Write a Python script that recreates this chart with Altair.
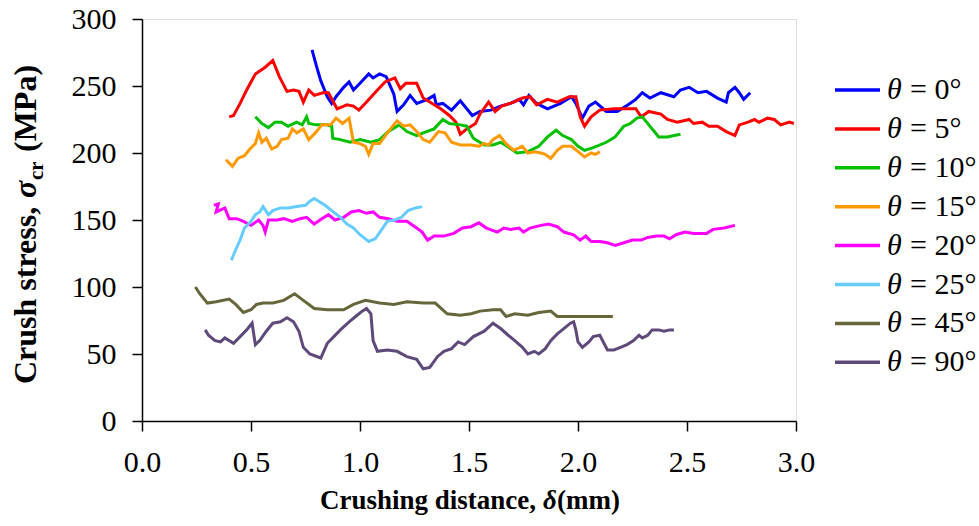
import altair as alt
import pandas as pd

series = ["θ = 0°", "θ = 5°", "θ = 10°", "θ = 15°", "θ = 20°", "θ = 25°", "θ = 45°", "θ = 90°"]
label_rest = ["= 0°", "= 5°", "= 10°", "= 15°", "= 20°", "= 25°", "= 45°", "= 90°"]
colors = ["#0000FF", "#FF0000", "#00C000", "#FF9900", "#FF00FF", "#66CCFF", "#66663A", "#5E4A7A"]

x_0 = [0.78, 0.80, 0.82, 0.85, 0.87, 0.89, 0.925, 0.95, 0.97, 1.0, 1.04, 1.06, 1.09, 1.12, 1.155, 1.17, 1.2, 1.23,
       1.26, 1.31, 1.34, 1.35, 1.38, 1.42, 1.46, 1.515, 1.55, 1.6, 1.645, 1.69, 1.73, 1.75, 1.775, 1.81, 1.86, 1.92,
       1.97, 1.99, 2.02, 2.05, 2.08, 2.13, 2.18, 2.23, 2.265, 2.295, 2.33, 2.38, 2.44, 2.47, 2.51, 2.55, 2.59, 2.64,
       2.68, 2.69, 2.72, 2.74, 2.76, 2.79]
y_0 = [277, 265, 254, 242, 237, 242, 249, 253, 247, 252, 259, 256, 259, 257, 244, 231, 236, 243,
       237, 240, 243, 236, 237, 232, 239, 228, 231, 232, 235, 237, 240, 236, 243, 237, 233, 237,
       242, 237, 226, 235, 238, 231, 231, 236, 240, 245, 241, 245, 242, 247, 249, 245, 246, 241,
       238, 245, 249, 245, 240, 245]

x_5 = [0.40, 0.42, 0.45, 0.48, 0.52, 0.565, 0.60, 0.63, 0.665, 0.695, 0.72, 0.74, 0.765, 0.79, 0.83, 0.855, 0.895,
       0.94, 0.97, 0.995, 1.03, 1.08, 1.115, 1.16, 1.185, 1.21, 1.26, 1.29, 1.32, 1.37, 1.41, 1.44, 1.46, 1.49, 1.53,
       1.55, 1.59, 1.62, 1.65, 1.705, 1.745, 1.78, 1.81, 1.86, 1.905, 1.96, 1.99, 2.01, 2.03, 2.06, 2.10, 2.165, 2.23,
       2.265, 2.29, 2.325, 2.38, 2.41, 2.455, 2.51, 2.53, 2.57, 2.60, 2.64, 2.68, 2.72, 2.74, 2.78, 2.81, 2.83, 2.87,
       2.90, 2.93, 2.97, 2.99]
y_5 = [227, 228, 237, 247, 259, 264, 269, 257, 246, 247, 246, 238, 247, 243, 245, 245, 233,
       236, 235, 232, 238, 247, 253, 256, 248, 252, 252, 241, 238, 233, 228, 223, 214, 218, 222,
       229, 238, 231, 235, 238, 241, 242, 236, 240, 238, 242, 242, 227, 220, 227, 232, 233, 233,
       233, 227, 231, 229, 225, 223, 225, 222, 223, 220, 220, 216, 213, 221, 223, 225, 223, 226,
       225, 221, 223, 222]

x_10 = [0.52, 0.55, 0.58, 0.61, 0.64, 0.67, 0.71, 0.735, 0.755, 0.765, 0.80, 0.85, 0.87, 0.875, 0.91, 0.955, 1.0,
        1.05, 1.09, 1.13, 1.18, 1.215, 1.26, 1.29, 1.34, 1.38, 1.41, 1.46, 1.49, 1.52, 1.57, 1.61, 1.645, 1.675,
        1.72, 1.77, 1.82, 1.86, 1.90, 1.93, 1.97, 2.0, 2.03, 2.07, 2.13, 2.17, 2.21, 2.24, 2.27, 2.295, 2.325, 2.35,
        2.37, 2.41, 2.44, 2.47]
y_10 = [227, 222, 219, 223, 223, 220, 223, 221, 227, 222, 221, 221, 220, 211, 210, 208, 210,
        208, 210, 216, 221, 216, 213, 215, 218, 225, 222, 221, 220, 211, 206, 206, 208, 205,
        200, 201, 205, 212, 217, 213, 210, 205, 202, 204, 208, 212, 220, 222, 226, 227, 221, 216,
        212, 212, 213, 214]

x_15 = [0.385, 0.415, 0.44, 0.47, 0.495, 0.52, 0.535, 0.55, 0.57, 0.595, 0.62, 0.64, 0.67, 0.69, 0.71, 0.74, 0.765,
        0.795, 0.825, 0.865, 0.89, 0.92, 0.95, 0.97, 1.0, 1.025, 1.04, 1.06, 1.09, 1.13, 1.17, 1.20, 1.23, 1.26,
        1.29, 1.32, 1.36, 1.39, 1.42, 1.46, 1.51, 1.545, 1.57, 1.59, 1.61, 1.64, 1.67, 1.705, 1.745, 1.77, 1.80,
        1.83, 1.85, 1.875, 1.905, 1.93, 1.97, 2.0, 2.03, 2.06, 2.08, 2.10]
y_15 = [195, 190, 196, 198, 203, 207, 215, 208, 211, 203, 205, 210, 211, 218, 215, 218, 210,
        215, 221, 221, 226, 222, 226, 208, 207, 205, 199, 207, 207, 216, 224, 220, 221, 216,
        210, 208, 216, 215, 208, 206, 206, 205, 207, 206, 210, 213, 207, 202, 205, 200, 201,
        200, 199, 196, 202, 205, 205, 201, 197, 200, 199, 201]

x_20 = [0.33, 0.35, 0.34, 0.38, 0.40, 0.435, 0.465, 0.50, 0.535, 0.555, 0.565, 0.58, 0.62, 0.65, 0.69, 0.725, 0.755,
        0.79, 0.825, 0.855, 0.885, 0.925, 0.96, 0.995, 1.03, 1.06, 1.09, 1.13, 1.17, 1.215, 1.26, 1.285, 1.31,
        1.34, 1.385, 1.43, 1.47, 1.51, 1.545, 1.58, 1.63, 1.66, 1.69, 1.73, 1.75, 1.78, 1.83, 1.865, 1.905, 1.935,
        1.98, 2.01, 2.035, 2.06, 2.10, 2.135, 2.17, 2.21, 2.25, 2.29, 2.32, 2.36, 2.395, 2.42, 2.45, 2.49, 2.53,
        2.59, 2.62, 2.67, 2.72]
y_20 = [161, 162, 156, 159, 151, 151, 149, 146, 150, 146, 141, 150, 150, 151, 149, 151, 152,
        147, 151, 154, 150, 152, 156, 157, 155, 156, 152, 151, 149, 149, 144, 141, 135,
        138, 138, 140, 144, 145, 148, 144, 141, 144, 143, 144, 141, 144, 146, 147, 145, 141,
        139, 135, 138, 134, 134, 133, 131, 133, 135, 135, 137, 138, 138, 136, 139, 141, 140,
        140, 143, 144, 146]

x_25 = [0.41, 0.43, 0.45, 0.47, 0.50, 0.52, 0.54, 0.555, 0.58, 0.60, 0.635, 0.67, 0.71, 0.75, 0.77, 0.79, 0.81, 0.84,
        0.87, 0.91, 0.94, 0.97, 1.0, 1.04, 1.07, 1.10, 1.125, 1.16, 1.19, 1.22, 1.255, 1.285]
y_25 = [120, 128, 135, 144, 149, 154, 156, 160, 154, 157, 159, 159, 160, 161, 164, 166, 164, 161,
        157, 152, 147, 144, 139, 134, 136, 143, 149, 150, 152, 157, 159, 160]

x_45 = [0.245, 0.265, 0.30, 0.34, 0.40, 0.43, 0.465, 0.50, 0.525, 0.555, 0.60, 0.65, 0.70, 0.74, 0.79, 0.85, 0.925,
        0.97, 1.025, 1.09, 1.155, 1.215, 1.29, 1.345, 1.40, 1.46, 1.51, 1.55, 1.61, 1.645, 1.67, 1.71, 1.77, 1.82,
        1.875, 1.905, 2.0, 2.16]
y_45 = [100, 95, 88, 89, 91, 87, 81, 83, 87, 88, 88, 90, 95, 90, 84, 83, 83,
        87, 90, 88, 87, 89, 88, 88, 80, 79, 80, 82, 83, 83, 78, 80, 79, 81,
        82, 78, 78, 78]

x_90 = [0.29, 0.305, 0.335, 0.36, 0.38, 0.42, 0.45, 0.48, 0.505, 0.52, 0.54, 0.57, 0.60, 0.635, 0.665, 0.695, 0.72,
        0.74, 0.77, 0.82, 0.85, 0.88, 0.91, 0.95, 0.98, 1.01, 1.03, 1.05, 1.06, 1.08, 1.125, 1.17, 1.215, 1.26,
        1.29, 1.32, 1.355, 1.385, 1.42, 1.45, 1.48, 1.52, 1.57, 1.61, 1.645, 1.68, 1.71, 1.745, 1.77, 1.80, 1.82,
        1.85, 1.875, 1.905, 1.935, 1.965, 1.98, 1.99, 2.0, 2.02, 2.05, 2.07, 2.10, 2.135, 2.165, 2.195, 2.225,
        2.255, 2.28, 2.295, 2.32, 2.34, 2.37, 2.395, 2.42, 2.44]
y_90 = [68, 64, 60, 59, 62, 58, 63, 68, 73, 57, 60, 67, 73, 74, 77, 74, 67,
        55, 50, 47, 58, 63, 68, 74, 78, 82, 84, 80, 60, 52, 53, 52, 48, 46,
        39, 40, 48, 52, 54, 59, 57, 63, 67, 73, 69, 64, 60, 55, 50, 52, 50,
        54, 60, 65, 69, 73, 74, 68, 59, 55, 59, 63, 64, 53, 53, 55, 57,
        60, 64, 62, 64, 68, 68, 67, 68, 68]

all_x = [x_0, x_5, x_10, x_15, x_20, x_25, x_45, x_90]
all_y = [y_0, y_5, y_10, y_15, y_20, y_25, y_45, y_90]

rows = []
for s, xs, ys in zip(series, all_x, all_y):
    for i, (xv, yv) in enumerate(zip(xs, ys)):
        rows.append({"series": s, "d": xv, "stress": yv, "ord": i})
df = pd.DataFrame(rows)

legend_df = pd.DataFrame({"series": series, "rest": label_rest, "idx": list(range(len(series)))})

FONT = "Liberation Serif"
color_scale = alt.Scale(domain=series, range=colors)

lines = alt.Chart(df).mark_line(strokeWidth=3).encode(
    x=alt.X("d:Q", scale=alt.Scale(domain=[0, 3]),
            axis=alt.Axis(values=[0, 0.5, 1.0, 1.5, 2.0, 2.5, 3.0], format=".1f", title=None,
                          labelFontSize=30, labelFont=FONT, labelColor="#000000",
                          labelBaseline="alphabetic", labelPadding=40, tickSize=10,
                          labelFlush=False, labelOverlap=False,
                          grid=False, domainColor="#000000", tickColor="#000000",
                          domainWidth=1.5, tickWidth=1.5)),
    y=alt.Y("stress:Q", scale=alt.Scale(domain=[0, 300]),
            axis=alt.Axis(values=[0, 50, 100, 150, 200, 250, 300], title=None,
                          labelFontSize=30, labelFont=FONT, labelColor="#000000",
                          labelPadding=16, tickSize=10, grid=False,
                          labelFlush=False, labelOverlap=False,
                          domainColor="#000000", tickColor="#000000",
                          domainWidth=1.5, tickWidth=1.5)),
    color=alt.Color("series:N", scale=color_scale, legend=None),
    order=alt.Order("ord:Q"),
)

leg_rule = alt.Chart(legend_df).mark_rule(strokeWidth=3.5).transform_calculate(
    ly="71 + 38.9 * datum.idx"
).encode(
    x=alt.value(693), x2=alt.value(738),
    y=alt.Y("ly:Q", scale=None, axis=None),
    color=alt.Color("series:N", scale=color_scale, legend=None),
)
leg_theta = alt.Chart(legend_df).mark_text(
    font=FONT, fontSize=30, fontStyle="italic", align="left", baseline="middle", color="#000000"
).transform_calculate(ly="71 + 38.9 * datum.idx").encode(
    x=alt.value(745), y=alt.Y("ly:Q", scale=None, axis=None), text=alt.value("θ")
)
leg_text = alt.Chart(legend_df).mark_text(
    font=FONT, fontSize=30, align="left", baseline="middle", color="#000000"
).transform_calculate(ly="71 + 38.9 * datum.idx").encode(
    x=alt.value(768), y=alt.Y("ly:Q", scale=None, axis=None), text="rest:N"
)

one = alt.Data(values=[{"k": 1}])


def txt(s, x, y, size=28, style="normal", angle=0):
    return alt.Chart(one).mark_text(
        font=FONT, fontSize=size, fontWeight="bold", fontStyle=style, align="left",
        baseline="alphabetic", angle=angle, color="#000000"
    ).encode(x=alt.value(x), y=alt.value(y), text=alt.value(s))


ytitle = [
    txt("Crush stress, ", -106, 365, size=32, angle=270),
    txt("σ", -106, 179, size=32, style="italic", angle=270),
    txt("cr", -99, 161, size=21, angle=270),
    txt("(MPa)", -106, 133, size=32, angle=270),
]
xtitle = [
    txt("Crushing distance, ", 178, 490, size=27),
    txt("δ", 401, 490, size=27, style="italic"),
    txt("(mm)", 415, 490, size=27),
]

chart = alt.layer(lines, leg_rule, leg_theta, leg_text, *ytitle, *xtitle).resolve_scale(
    y="independent"
).properties(
    width=654, height=402,
    padding={"left": 142, "top": 19, "right": 183, "bottom": 105},
    autosize="none",
).configure_view(stroke=None).configure(background="#ffffff")

chart.save("out.html", embed_options={"renderer": "svg", "actions": False})
